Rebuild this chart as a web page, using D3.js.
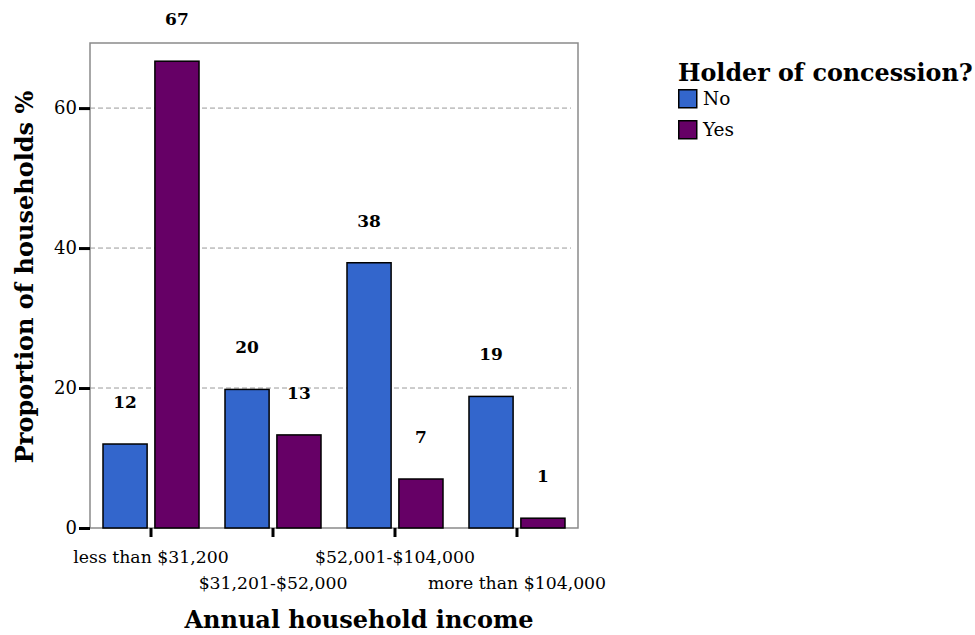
<!DOCTYPE html>
<html>
<head>
<meta charset="utf-8">
<script src="https://cdn.jsdelivr.net/npm/d3@7"></script>
<style>
  body { margin: 0; background: #fff; }
  svg { display: block; font-family: "DejaVu Serif", serif; }
</style>
</head>
<body>
<svg id="chart" width="975" height="635"></svg>
<script>
const categories = ["less than $31,200", "$31,201-$52,000", "$52,001-$104,000", "more than $104,000"];
const seriesNames = ["No", "Yes"];
const noValues = [12.0, 19.8, 37.9, 18.8];
const yesValues = [66.7, 13.3, 7.0, 1.4];
const yTicks = [0, 20, 40, 60];
const colors = ["#3366CC", "#660066"];
const xTitle = "Annual household income";
const yTitle = "Proportion of households %";
const legendTitle = "Holder of concession?";

const svg = d3.select("#chart");
const pLeft = 90, pRight = 578, pTop = 43, pBottom = 528;

const y = d3.scaleLinear().domain([0, 69.3]).range([pBottom, pTop]);
const x0 = d3.scaleBand().domain(categories).range([pLeft, pRight]).paddingInner(0.213).paddingOuter(0.1066);
const x1 = d3.scaleBand().domain(seriesNames).range([0, x0.bandwidth()]).paddingInner(0.15).paddingOuter(0);
const color = d3.scaleOrdinal().domain(seriesNames).range(colors);

const data = categories.map((c, i) => ({ cat: c, values: [
  { key: "No", v: noValues[i] }, { key: "Yes", v: yesValues[i] }
]}));

// gridlines
svg.append("g").selectAll("line").data(yTicks.filter(d => d > 0)).join("line")
  .attr("x1", pLeft).attr("x2", pRight - 7)
  .attr("y1", d => y(d)).attr("y2", d => y(d))
  .attr("stroke", "#9a9a9a").attr("stroke-width", 1).attr("stroke-dasharray", "5,3");

// frame
svg.append("rect").attr("x", pLeft).attr("y", pTop)
  .attr("width", pRight - pLeft).attr("height", pBottom - pTop)
  .attr("fill", "none").attr("stroke", "#8a8a8a").attr("stroke-width", 1.5);

// y axis
const yAxis = d3.axisLeft(y).tickValues(yTicks).tickSize(11).tickPadding(2).tickFormat(d3.format("d"));
const gy = svg.append("g").attr("transform", `translate(${pLeft},0)`).call(yAxis);
gy.select(".domain").remove();
gy.selectAll(".tick line").attr("stroke", "#000").attr("stroke-width", 3);
gy.selectAll(".tick text").attr("font-size", 18).attr("font-family", "DejaVu Serif").attr("fill", "#000");

// x axis
const xAxis = d3.axisBottom(x0).tickSize(9).tickPadding(0);
const gx = svg.append("g").attr("transform", `translate(0,${pBottom})`).call(xAxis);
gx.select(".domain").remove();
gx.selectAll(".tick line").attr("stroke", "#000").attr("stroke-width", 3);
gx.selectAll(".tick text")
  .attr("font-size", 17.3).attr("font-family", "DejaVu Serif").attr("fill", "#000")
  .attr("dy", null)
  .attr("y", (d, i) => i % 2 === 0 ? 35 : 61);

// bars
const groups = svg.append("g").selectAll("g").data(data).join("g")
  .attr("transform", d => `translate(${x0(d.cat)},0)`);
groups.selectAll("rect").data(d => d.values).join("rect")
  .attr("x", d => x1(d.key)).attr("width", x1.bandwidth())
  .attr("y", d => y(d.v)).attr("height", d => y(0) - y(d.v))
  .attr("fill", d => color(d.key)).attr("stroke", "#000").attr("stroke-width", 1.5);
groups.selectAll("text").data(d => d.values).join("text")
  .attr("x", d => x1(d.key) + x1.bandwidth() / 2)
  .attr("y", d => y(d.v) - 36)
  .attr("text-anchor", "middle").attr("font-weight", "bold").attr("font-size", 17)
  .text(d => d3.format(".0f")(d.v));

// axis titles
svg.append("text").attr("x", 359).attr("y", 628).attr("text-anchor", "middle")
  .attr("font-weight", "bold").attr("font-size", 24).text(xTitle);
svg.append("text").attr("transform", "translate(33,277) rotate(-90)").attr("text-anchor", "middle")
  .attr("font-weight", "bold").attr("font-size", 24).text(yTitle);

// legend
const lg = svg.append("g").attr("transform", "translate(678,0)");
lg.append("text").attr("x", 0).attr("y", 81).attr("font-weight", "bold").attr("font-size", 23.8).text(legendTitle);
const items = lg.selectAll("g.item").data(seriesNames).join("g").attr("class", "item")
  .attr("transform", (d, i) => `translate(0,${89 + i * 31})`);
items.append("rect").attr("x", 0.75).attr("y", 0.75).attr("width", 18).attr("height", 18)
  .attr("fill", d => color(d)).attr("stroke", "#000").attr("stroke-width", 1.5);
items.append("text").attr("x", 25).attr("y", 16).attr("font-size", 18.5).text(d => d);
</script>
</body>
</html>
